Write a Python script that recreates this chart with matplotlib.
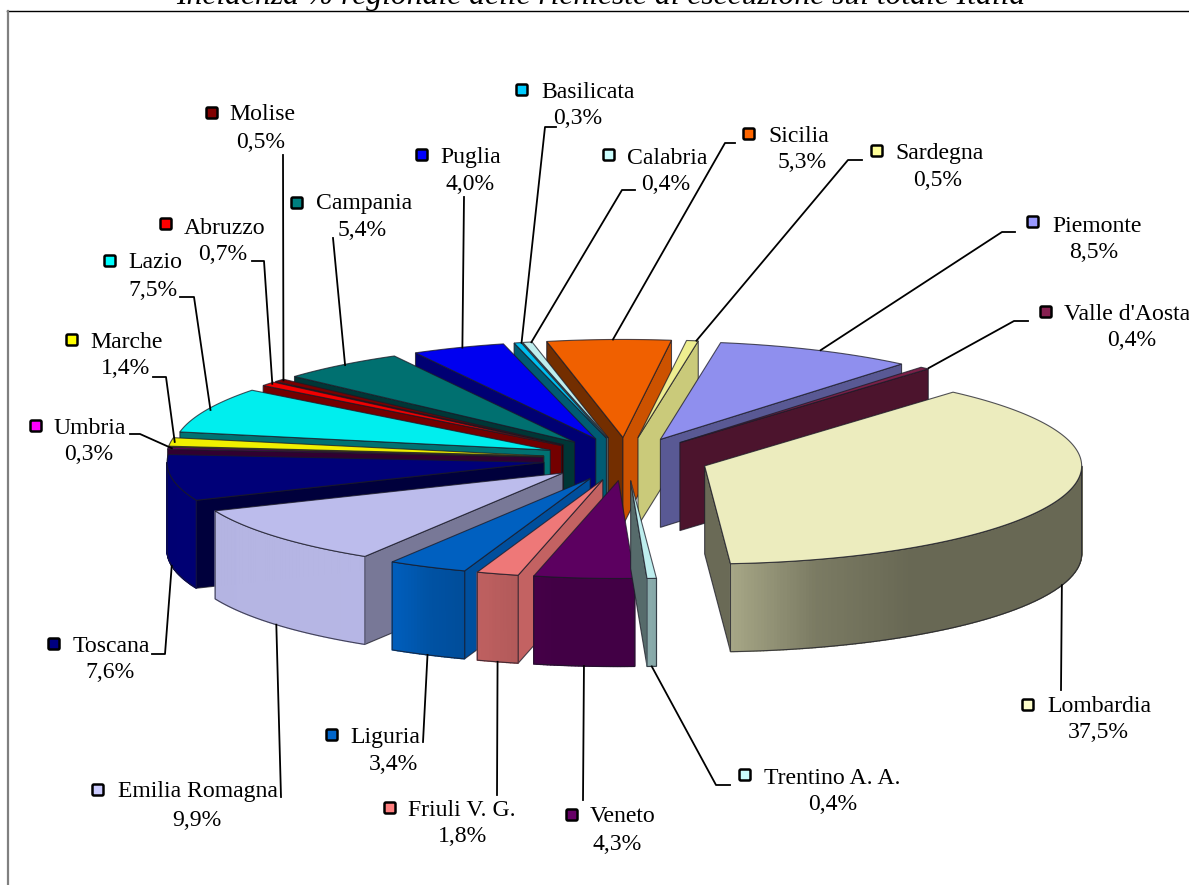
import matplotlib
matplotlib.use("Agg")
import matplotlib.pyplot as plt
import numpy as np
from matplotlib.patches import FancyBboxPatch, Polygon

regions = ["Piemonte", "Valle d'Aosta", "Lombardia", "Trentino A. A.", "Veneto",
           "Friuli V. G.", "Liguria", "Emilia Romagna", "Toscana", "Umbria",
           "Marche", "Lazio", "Abruzzo", "Molise", "Campania",
           "Puglia", "Basilicata", "Calabria", "Sicilia", "Sardegna"]
values = [8.5, 0.4, 37.5, 0.4, 4.3, 1.8, 3.4, 9.9, 7.6, 0.3,
          1.4, 7.5, 0.7, 0.5, 5.4, 4.0, 0.3, 0.4, 5.3, 0.5]
key_colors = ["#9999FF", "#862050", "#FFFFCC", "#CCFFFF", "#660066",
              "#FF8080", "#0066CC", "#CCCCFF", "#000080", "#FF00FF",
              "#FFFF00", "#00FFFF", "#FF0000", "#800000", "#008080",
              "#0000FF", "#00CCFF", "#CCFFFF", "#FF6600", "#FFFF99"]
top_colors = ["#8F8FEE", "#7A2048", "#ECECBE", "#BEEEEE", "#5C0060",
              "#EE7878", "#0060C0", "#BCBCEC", "#000078", "#660066",
              "#F0F000", "#00EEEE", "#F00000", "#780000", "#007070",
              "#0000F0", "#00C0F0", "#BEEEEE", "#F06000", "#EEEE90"]

# layout, in pixels of the 1189x885 picture
cx, cy = 626, 459
rx, ry = 377, 98
explode = 83
depth = 88
first_angle = 9.2

# key x, key y, name x, name y, value x, value y
label_pos = {
    "Molise": (212, 113, 229, 115, 261, 142),
    "Basilicata": (522, 90, 541, 92, 578, 118),
    "Puglia": (422, 155, 440, 157, 470, 184),
    "Calabria": (609, 155, 627, 158, 666, 185),
    "Sicilia": (749, 134, 768, 136, 802, 163),
    "Sardegna": (877, 151, 895, 153, 938, 180),
    "Piemonte": (1033, 222, 1052, 226, 1094, 252),
    "Valle d'Aosta": (1046, 312, 1064, 314, 1132, 341),
    "Lombardia": (1028, 705, 1047, 707, 1098, 733),
    "Trentino A. A.": (745, 775, 764, 778, 833, 805),
    "Veneto": (572, 815, 590, 817, 617, 844),
    "Friuli V. G.": (390, 808, 408, 811, 463, 837),
    "Liguria": (332, 735, 350, 737, 393, 764),
    "Emilia Romagna": (98, 790, 118, 792, 197, 820),
    "Toscana": (54, 644, 73, 646, 110, 673),
    "Umbria": (36, 426, 54, 428, 89, 455),
    "Marche": (72, 340, 90, 342, 126, 369),
    "Lazio": (110, 261, 128, 263, 153, 290),
    "Abruzzo": (166, 224, 184, 228, 223, 255),
    "Campania": (297, 203, 316, 204, 362, 231),
}
# leader line from the label towards the slice
leaders = {
    "Molise": [(283, 155)],
    "Basilicata": [(556, 127), (545, 127)],
    "Puglia": [(464, 197)],
    "Calabria": [(635, 190), (622, 190)],
    "Sicilia": [(735, 143), (725, 143)],
    "Sardegna": [(862, 160), (848, 160)],
    "Piemonte": [(1015, 232), (1002, 232)],
    "Valle d'Aosta": [(1028, 321), (1014, 321)],
    "Lombardia": [(1061, 690)],
    "Trentino A. A.": [(730, 785), (716, 785)],
    "Veneto": [(583, 800)],
    "Friuli V. G.": [(497, 795)],
    "Liguria": [(423, 742)],
    "Emilia Romagna": [(281, 797)],
    "Toscana": [(152, 654), (165, 654)],
    "Umbria": [(130, 434), (140, 434)],
    "Marche": [(153, 377), (166, 377)],
    "Lazio": [(180, 297), (194, 297)],
    "Abruzzo": [(252, 261), (264, 261)],
    "Campania": [(333, 238)],
}

plt.rcParams["font.family"] = ["Liberation Serif", "DejaVu Serif"]
fig = plt.figure(figsize=(11.89, 8.85), dpi=100)
ax = fig.add_axes([0, 0, 1, 1])
ax.set_xlim(0, 1189)
ax.set_ylim(885, 0)
ax.axis("off")


def point(ang, r, tip, down=0):
    a = np.radians(ang)
    return tip[0] + r * np.sin(a), tip[1] - r * ry / rx * np.cos(a) + down


def shade(color, f):
    rgb = np.array(matplotlib.colors.to_rgb(color))
    return tuple(rgb * f)


def wall_factor(ang):
    return np.interp(ang % 360, [90, 147, 163, 177, 190, 205, 211, 270],
                     [0.44, 0.44, 0.52, 0.72, 0.72, 0.85, 0.97, 0.95])


def start_factor(ang):
    # back slices all share the same dark side
    if np.cos(np.radians(ang)) > 0:
        return 0.48
    return np.interp(ang % 360, [190, 205, 212, 247], [0.82, 0.82, 0.63, 0.5])


def end_factor(ang):
    return np.interp(ang % 360, [7, 10, 39, 41, 176], [0.85, 0.85, 0.62, 0.62, 0.45])


edge = (0.1, 0.1, 0.15, 0.75)
total = sum(values)
starts = first_angle + np.cumsum([0] + values[:-1]) / total * 360
ends = starts + np.array(values) / total * 360
mids = (starts + ends) / 2
order = np.argsort(-np.cos(np.radians(mids)))

for i in order:
    t1, t2, tm = starts[i], ends[i], mids[i]
    col = top_colors[i]
    tip = point(tm, explode, (cx, cy))
    bottom_tip = (tip[0], tip[1] + depth)
    # radial faces that look at the viewer
    if np.sin(np.radians(t1)) < 0:
        p = point(t1, rx, tip)
        ax.add_patch(Polygon([tip, p, (p[0], p[1] + depth), bottom_tip], closed=True,
                             facecolor=shade(col, start_factor(t1)), edgecolor=edge, lw=0.8))
    if np.sin(np.radians(t2)) > 0:
        p = point(t2, rx, tip)
        ax.add_patch(Polygon([tip, p, (p[0], p[1] + depth), bottom_tip], closed=True,
                             facecolor=shade(col, end_factor(t2)), edgecolor=edge, lw=0.8))
    # outer wall, only the front half of the ellipse shows
    lo = max(t1, 90)
    hi = min(t2, 270)
    if lo < hi:
        angs = np.linspace(lo, hi, max(3, int((hi - lo) * 2)))
        for a, b in zip(angs[:-1], angs[1:]):
            p, q = point(a, rx, tip), point(b, rx, tip)
            c = shade(col, wall_factor((a + b) / 2))
            ax.add_patch(Polygon([p, q, (q[0], q[1] + depth), (p[0], p[1] + depth)], closed=True,
                                 facecolor=c, edgecolor=c, lw=1.0))
        top_arc = [point(a, rx, tip) for a in angs]
        low_arc = [(x, y + depth) for x, y in top_arc]
        ax.add_patch(Polygon(top_arc + low_arc[::-1], closed=True, fill=False, edgecolor=edge, lw=0.8))
    # top face
    angs = np.linspace(t1, t2, max(3, int((t2 - t1) * 2)))
    ax.add_patch(Polygon([tip] + [point(a, rx, tip) for a in angs], closed=True,
                         facecolor=col, edgecolor=edge, lw=0.8))

# labels and leader lines
for i, name in enumerate(regions):
    kx, ky, nx, ny, vx, vy = label_pos[name]
    ax.add_patch(FancyBboxPatch((kx - 5, ky - 5), 10, 10, boxstyle="round,pad=0.5,rounding_size=1.5",
                                facecolor=key_colors[i], edgecolor="black", lw=1.8, zorder=5))
    ax.text(nx, ny, name, fontsize=17.1, ha="left", va="center", zorder=5)
    txt = f"{values[i]:.1f}".replace(".", ",") + "%"
    ax.text(vx, vy, txt, fontsize=17.1, ha="center", va="center", zorder=5)
    tip = point(mids[i], explode, (cx, cy))
    front = np.cos(np.radians(mids[i])) < 0
    end = point(mids[i], rx, tip, depth if front else 0)
    if not front:
        end = (end[0] + 4, end[1])
    pts = leaders[name] + [end]
    ax.plot([p[0] for p in pts], [p[1] for p in pts], color="black", lw=1.3, zorder=4)

ax.text(601, 4, "Incidenza % regionale delle richieste di esecuzione sul totale Italia",
        fontsize=22.8, style="italic", ha="center", va="baseline")
ax.plot([7, 1189], [11, 11], color="black", lw=1.0)
ax.plot([7.5, 7.5], [11, 885], color="#808080", lw=1.6)

plt.savefig("out.png", dpi=100)
